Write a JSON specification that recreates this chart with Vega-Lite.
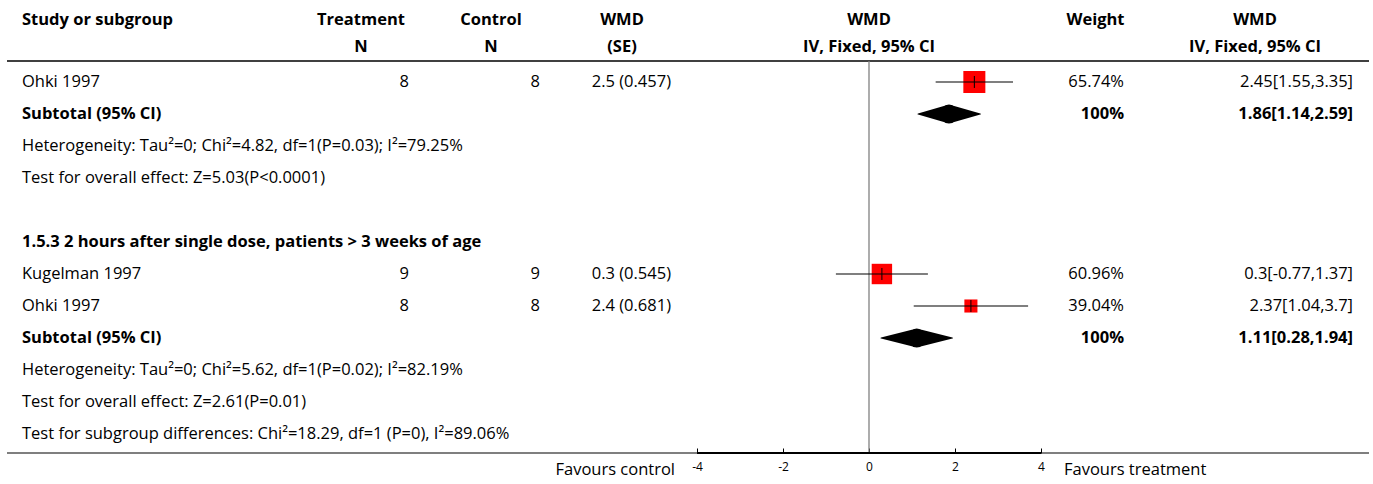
{
  "$schema": "https://vega.github.io/schema/vega-lite/v6.json",
  "padding": {"left": 6, "right": 5, "top": 0, "bottom": 0},
  "background": "white",
  "spacing": 0,
  "bounds": "flush",
  "datasets": {
    "rows": [
      {"row": 1, "kind": "study", "label": "Ohki 1997", "tn": "8", "cn": "8", "se": "2.5 (0.457)", "mean": 2.45, "lo": 1.55, "hi": 3.35, "weight": 65.74, "wtext": "65.74%", "ci": "2.45[1.55,3.35]"},
      {"row": 2, "kind": "subtotal", "label": "Subtotal (95% CI)", "mean": 1.86, "lo": 1.14, "hi": 2.59, "wtext": "100%", "ci": "1.86[1.14,2.59]"},
      {"row": 3, "kind": "note", "label": "Heterogeneity: Tau²=0; Chi²=4.82, df=1(P=0.03); I²=79.25%"},
      {"row": 4, "kind": "note", "label": "Test for overall effect: Z=5.03(P<0.0001)"},
      {"row": 6, "kind": "group", "label": "1.5.3 2 hours after single dose, patients > 3 weeks of age"},
      {"row": 7, "kind": "study", "label": "Kugelman 1997", "tn": "9", "cn": "9", "se": "0.3 (0.545)", "mean": 0.3, "lo": -0.77, "hi": 1.37, "weight": 60.96, "wtext": "60.96%", "ci": "0.3[-0.77,1.37]"},
      {"row": 8, "kind": "study", "label": "Ohki 1997", "tn": "8", "cn": "8", "se": "2.4 (0.681)", "mean": 2.37, "lo": 1.04, "hi": 3.7, "weight": 39.04, "wtext": "39.04%", "ci": "2.37[1.04,3.7]"},
      {"row": 9, "kind": "subtotal", "label": "Subtotal (95% CI)", "mean": 1.11, "lo": 0.28, "hi": 1.94, "wtext": "100%", "ci": "1.11[0.28,1.94]"},
      {"row": 10, "kind": "note", "label": "Heterogeneity: Tau²=0; Chi²=5.62, df=1(P=0.02); I²=82.19%"},
      {"row": 11, "kind": "note", "label": "Test for overall effect: Z=2.61(P=0.01)"},
      {"row": 12, "kind": "note", "label": "Test for subgroup differences: Chi²=18.29, df=1 (P=0), I²=89.06%"}
    ],
    "heads": [
      {"col": "study", "l1": "Study or subgroup", "l2": ""},
      {"col": "tn", "l1": "Treatment", "l2": "N"},
      {"col": "cn", "l1": "Control", "l2": "N"},
      {"col": "se", "l1": "WMD", "l2": "(SE)"},
      {"col": "forest", "l1": "WMD", "l2": "IV, Fixed, 95% CI"},
      {"col": "wt", "l1": "Weight", "l2": ""},
      {"col": "ci", "l1": "WMD", "l2": "IV, Fixed, 95% CI"}
    ],
    "one": [{}]
  },
  "hconcat": [
    {
      "width": 306, "height": 453,
      "layer": [
        {"data": {"name": "one"}, "mark": {"type": "rule", "color": "#000", "strokeWidth": 1.3}, "encoding": {"y": {"datum": 0.344, "type": "quantitative", "scale": {"domain": [-1.5625, 12.5938], "reverse": true, "nice": false, "zero": false}, "axis": null}}},
        {"data": {"name": "one"}, "mark": {"type": "rule", "color": "#000", "strokeWidth": 1.2}, "encoding": {"y": {"value": "height"}}},
        {"data": {"name": "heads"}, "transform": [{"filter": "datum.col === 'study'"}], "mark": {"type": "text", "x": 0, "dx": 15, "dy": 2, "align": "left", "fontWeight": "bold"}, "encoding": {"y": {"datum": -1, "type": "quantitative", "scale": {"domain": [-1.5625, 12.5938], "reverse": true, "nice": false, "zero": false}, "axis": null}, "text": {"field": "l1"}}},
        {"data": {"name": "rows"}, "transform": [{"filter": "datum.kind === 'study' || datum.kind === 'note'"}], "mark": {"type": "text", "x": 0, "dx": 15, "align": "left"}, "encoding": {"y": {"field": "row", "type": "quantitative", "scale": {"domain": [-1.5625, 12.5938], "reverse": true, "nice": false, "zero": false}, "axis": null}, "text": {"field": "label"}}},
        {"data": {"name": "rows"}, "transform": [{"filter": "datum.kind === 'subtotal' || datum.kind === 'group'"}], "mark": {"type": "text", "x": 0, "dx": 15, "align": "left", "fontWeight": "bold"}, "encoding": {"y": {"field": "row", "type": "quantitative", "scale": {"domain": [-1.5625, 12.5938], "reverse": true, "nice": false, "zero": false}, "axis": null}, "text": {"field": "label"}}}
      ]
    },
    {
      "width": 96, "height": 453,
      "layer": [
        {"data": {"name": "one"}, "mark": {"type": "rule", "color": "#000", "strokeWidth": 1.3}, "encoding": {"y": {"datum": 0.344, "type": "quantitative", "scale": {"domain": [-1.5625, 12.5938], "reverse": true, "nice": false, "zero": false}, "axis": null}}},
        {"data": {"name": "one"}, "mark": {"type": "rule", "color": "#000", "strokeWidth": 1.2}, "encoding": {"y": {"value": "height"}}},
        {"data": {"name": "heads"}, "transform": [{"filter": "datum.col === 'tn'"}], "mark": {"type": "text", "x": "width", "dx": -48, "dy": 2, "align": "center", "fontWeight": "bold"}, "encoding": {"y": {"datum": -1, "type": "quantitative", "scale": {"domain": [-1.5625, 12.5938], "reverse": true, "nice": false, "zero": false}, "axis": null}, "text": {"field": "l1"}}},
        {"data": {"name": "heads"}, "transform": [{"filter": "datum.col === 'tn'"}], "mark": {"type": "text", "x": "width", "dx": -48, "dy": -3, "align": "center", "fontWeight": "bold"}, "encoding": {"y": {"datum": 0, "type": "quantitative", "scale": {"domain": [-1.5625, 12.5938], "reverse": true, "nice": false, "zero": false}, "axis": null}, "text": {"field": "l2"}}},
        {"data": {"name": "rows"}, "transform": [{"filter": "datum.kind === 'study'"}], "mark": {"type": "text", "x": "width", "align": "right"}, "encoding": {"y": {"field": "row", "type": "quantitative", "scale": {"domain": [-1.5625, 12.5938], "reverse": true, "nice": false, "zero": false}, "axis": null}, "text": {"field": "tn"}}}
      ]
    },
    {
      "width": 131, "height": 453,
      "layer": [
        {"data": {"name": "one"}, "mark": {"type": "rule", "color": "#000", "strokeWidth": 1.3}, "encoding": {"y": {"datum": 0.344, "type": "quantitative", "scale": {"domain": [-1.5625, 12.5938], "reverse": true, "nice": false, "zero": false}, "axis": null}}},
        {"data": {"name": "one"}, "mark": {"type": "rule", "color": "#000", "strokeWidth": 1.2}, "encoding": {"y": {"value": "height"}}},
        {"data": {"name": "heads"}, "transform": [{"filter": "datum.col === 'cn'"}], "mark": {"type": "text", "x": "width", "dx": -49, "dy": 2, "align": "center", "fontWeight": "bold"}, "encoding": {"y": {"datum": -1, "type": "quantitative", "scale": {"domain": [-1.5625, 12.5938], "reverse": true, "nice": false, "zero": false}, "axis": null}, "text": {"field": "l1"}}},
        {"data": {"name": "heads"}, "transform": [{"filter": "datum.col === 'cn'"}], "mark": {"type": "text", "x": "width", "dx": -49, "dy": -3, "align": "center", "fontWeight": "bold"}, "encoding": {"y": {"datum": 0, "type": "quantitative", "scale": {"domain": [-1.5625, 12.5938], "reverse": true, "nice": false, "zero": false}, "axis": null}, "text": {"field": "l2"}}},
        {"data": {"name": "rows"}, "transform": [{"filter": "datum.kind === 'study'"}], "mark": {"type": "text", "x": "width", "align": "right"}, "encoding": {"y": {"field": "row", "type": "quantitative", "scale": {"domain": [-1.5625, 12.5938], "reverse": true, "nice": false, "zero": false}, "axis": null}, "text": {"field": "cn"}}}
      ]
    },
    {
      "width": 131, "height": 453,
      "layer": [
        {"data": {"name": "one"}, "mark": {"type": "rule", "color": "#000", "strokeWidth": 1.3}, "encoding": {"y": {"datum": 0.344, "type": "quantitative", "scale": {"domain": [-1.5625, 12.5938], "reverse": true, "nice": false, "zero": false}, "axis": null}}},
        {"data": {"name": "one"}, "mark": {"type": "rule", "color": "#000", "strokeWidth": 1.2}, "encoding": {"y": {"value": "height"}}},
        {"data": {"name": "heads"}, "transform": [{"filter": "datum.col === 'se'"}], "mark": {"type": "text", "x": "width", "dx": -49, "dy": 2, "align": "center", "fontWeight": "bold"}, "encoding": {"y": {"datum": -1, "type": "quantitative", "scale": {"domain": [-1.5625, 12.5938], "reverse": true, "nice": false, "zero": false}, "axis": null}, "text": {"field": "l1"}}},
        {"data": {"name": "heads"}, "transform": [{"filter": "datum.col === 'se'"}], "mark": {"type": "text", "x": "width", "dx": -49, "dy": -3, "align": "center", "fontWeight": "bold"}, "encoding": {"y": {"datum": 0, "type": "quantitative", "scale": {"domain": [-1.5625, 12.5938], "reverse": true, "nice": false, "zero": false}, "axis": null}, "text": {"field": "l2"}}},
        {"data": {"name": "rows"}, "transform": [{"filter": "datum.kind === 'study'"}], "mark": {"type": "text", "x": "width", "align": "right"}, "encoding": {"y": {"field": "row", "type": "quantitative", "scale": {"domain": [-1.5625, 12.5938], "reverse": true, "nice": false, "zero": false}, "axis": null}, "text": {"field": "se"}}}
      ]
    },
    {
      "width": 396, "height": 453,
      "layer": [
        {"data": {"name": "one"}, "mark": {"type": "rule", "color": "#000", "strokeWidth": 1.3}, "encoding": {"y": {"datum": 0.344, "type": "quantitative", "scale": {"domain": [-1.5625, 12.5938], "reverse": true, "nice": false, "zero": false}, "axis": null}}},
        {"data": {"name": "one"}, "mark": {"type": "rule", "color": "#000", "strokeWidth": 1.2}, "encoding": {"y": {"value": "height"}}},
        {"data": {"name": "one"}, "mark": {"type": "rule", "color": "#808080", "strokeWidth": 1.3}, "encoding": {
          "x": {"datum": 0, "type": "quantitative", "scale": {"domain": [-4.6047, 4.6047], "nice": false, "zero": false}, "title": null,
                "axis": {"values": [-4, -2, 0, 2, 4], "domain": false, "grid": false, "tickSize": -5, "tickColor": "#000", "tickWidth": 1, "labelPadding": 13, "labelFontSize": 12, "labelColor": "#000", "labelFont": "Open Sans", "labelExpr": "datum.value", "title": null, "labelFlush": false}},
          "y": {"datum": 0.344, "type": "quantitative", "scale": {"domain": [-1.5625, 12.5938], "reverse": true, "nice": false, "zero": false}, "axis": null},
          "y2": {"datum": 12.5938}}},
        {"data": {"name": "one"}, "mark": {"type": "rule", "color": "#000", "strokeWidth": 2}, "encoding": {
          "x": {"datum": -4, "type": "quantitative", "scale": {"domain": [-4.6047, 4.6047], "nice": false, "zero": false}, "title": null},
          "x2": {"datum": 4},
          "y": {"value": "height"}}},
        {"data": {"name": "rows"}, "transform": [{"filter": "datum.kind === 'study'"}], "mark": {"type": "point", "shape": "square", "filled": true, "color": "#ff0000", "opacity": 1, "strokeWidth": 0}, "encoding": {
          "x": {"field": "mean", "type": "quantitative", "scale": {"domain": [-4.6047, 4.6047], "nice": false, "zero": false}, "title": null},
          "y": {"field": "row", "type": "quantitative", "scale": {"domain": [-1.5625, 12.5938], "reverse": true, "nice": false, "zero": false}, "axis": null},
          "size": {"field": "weight", "type": "quantitative", "scale": {"type": "pow", "exponent": 2, "domain": [0, 100], "range": [0, 1122]}, "legend": null}}},
        {"data": {"name": "rows"}, "transform": [{"filter": "datum.kind === 'study'"}], "mark": {"type": "rule", "color": "#000", "strokeWidth": 1.2}, "encoding": {
          "x": {"field": "lo", "type": "quantitative", "scale": {"domain": [-4.6047, 4.6047], "nice": false, "zero": false}, "title": null},
          "x2": {"field": "hi"},
          "y": {"field": "row", "type": "quantitative", "scale": {"domain": [-1.5625, 12.5938], "reverse": true, "nice": false, "zero": false}, "axis": null}}},
        {"data": {"name": "rows"}, "transform": [{"filter": "datum.kind === 'study'"}], "mark": {"type": "point", "shape": "M0,-1L0,1", "filled": false, "stroke": "#000", "strokeWidth": 1, "opacity": 1, "size": 144}, "encoding": {
          "x": {"field": "mean", "type": "quantitative", "scale": {"domain": [-4.6047, 4.6047], "nice": false, "zero": false}, "title": null},
          "y": {"field": "row", "type": "quantitative", "scale": {"domain": [-1.5625, 12.5938], "reverse": true, "nice": false, "zero": false}, "axis": null}}},
        {"data": {"name": "rows"}, "transform": [{"filter": "datum.kind === 'subtotal'"}, {"fold": ["lo", "mean", "hi"], "as": ["pt", "val"]}], "mark": {"type": "trail", "color": "#000", "opacity": 1}, "encoding": {
          "x": {"field": "val", "type": "quantitative", "scale": {"domain": [-4.6047, 4.6047], "nice": false, "zero": false}, "title": null},
          "y": {"field": "row", "type": "quantitative", "scale": {"domain": [-1.5625, 12.5938], "reverse": true, "nice": false, "zero": false}, "axis": null},
          "detail": {"field": "row", "type": "nominal"},
          "size": {"condition": {"test": "datum.pt === 'mean'", "value": 19}, "value": 0}}},
        {"data": {"name": "heads"}, "transform": [{"filter": "datum.col === 'forest'"}], "mark": {"type": "text", "dy": 2, "align": "center", "fontWeight": "bold"}, "encoding": {
          "x": {"datum": 0, "type": "quantitative", "scale": {"domain": [-4.6047, 4.6047], "nice": false, "zero": false}, "title": null},
          "y": {"datum": -1, "type": "quantitative", "scale": {"domain": [-1.5625, 12.5938], "reverse": true, "nice": false, "zero": false}, "axis": null}, "text": {"field": "l1"}}},
        {"data": {"name": "heads"}, "transform": [{"filter": "datum.col === 'forest'"}], "mark": {"type": "text", "dy": -3, "align": "center", "fontWeight": "bold"}, "encoding": {
          "x": {"datum": 0, "type": "quantitative", "scale": {"domain": [-4.6047, 4.6047], "nice": false, "zero": false}, "title": null},
          "y": {"datum": 0, "type": "quantitative", "scale": {"domain": [-1.5625, 12.5938], "reverse": true, "nice": false, "zero": false}, "axis": null}, "text": {"field": "l2"}}},
        {"data": {"name": "one"}, "mark": {"type": "text", "align": "right", "dx": -22, "dy": 17, "y": "height"}, "encoding": {
          "x": {"datum": -4, "type": "quantitative", "scale": {"domain": [-4.6047, 4.6047], "nice": false, "zero": false}, "title": null},
          "text": {"value": "Favours control"}}},
        {"data": {"name": "one"}, "mark": {"type": "text", "align": "left", "dx": 23, "dy": 17, "y": "height"}, "encoding": {
          "x": {"datum": 4, "type": "quantitative", "scale": {"domain": [-4.6047, 4.6047], "nice": false, "zero": false}, "title": null},
          "text": {"value": "Favours treatment"}}}
      ]
    },
    {
      "width": 57, "height": 453,
      "layer": [
        {"data": {"name": "one"}, "mark": {"type": "rule", "color": "#000", "strokeWidth": 1.3}, "encoding": {"y": {"datum": 0.344, "type": "quantitative", "scale": {"domain": [-1.5625, 12.5938], "reverse": true, "nice": false, "zero": false}, "axis": null}}},
        {"data": {"name": "one"}, "mark": {"type": "rule", "color": "#000", "strokeWidth": 1.2}, "encoding": {"y": {"value": "height"}}},
        {"data": {"name": "heads"}, "transform": [{"filter": "datum.col === 'wt'"}], "mark": {"type": "text", "x": "width", "dx": -28.5, "dy": 2, "align": "center", "fontWeight": "bold"}, "encoding": {"y": {"datum": -1, "type": "quantitative", "scale": {"domain": [-1.5625, 12.5938], "reverse": true, "nice": false, "zero": false}, "axis": null}, "text": {"field": "l1"}}},
        {"data": {"name": "rows"}, "transform": [{"filter": "datum.kind === 'study'"}], "mark": {"type": "text", "x": "width", "align": "right"}, "encoding": {"y": {"field": "row", "type": "quantitative", "scale": {"domain": [-1.5625, 12.5938], "reverse": true, "nice": false, "zero": false}, "axis": null}, "text": {"field": "wtext"}}},
        {"data": {"name": "rows"}, "transform": [{"filter": "datum.kind === 'subtotal'"}], "mark": {"type": "text", "x": "width", "align": "right", "fontWeight": "bold"}, "encoding": {"y": {"field": "row", "type": "quantitative", "scale": {"domain": [-1.5625, 12.5938], "reverse": true, "nice": false, "zero": false}, "axis": null}, "text": {"field": "wtext"}}}
      ]
    },
    {
      "width": 245, "height": 453,
      "layer": [
        {"data": {"name": "one"}, "mark": {"type": "rule", "color": "#000", "strokeWidth": 1.3}, "encoding": {"y": {"datum": 0.344, "type": "quantitative", "scale": {"domain": [-1.5625, 12.5938], "reverse": true, "nice": false, "zero": false}, "axis": null}}},
        {"data": {"name": "one"}, "mark": {"type": "rule", "color": "#000", "strokeWidth": 1.2}, "encoding": {"y": {"value": "height"}}},
        {"data": {"name": "heads"}, "transform": [{"filter": "datum.col === 'ci'"}], "mark": {"type": "text", "x": "width", "dx": -114, "dy": 2, "align": "center", "fontWeight": "bold"}, "encoding": {"y": {"datum": -1, "type": "quantitative", "scale": {"domain": [-1.5625, 12.5938], "reverse": true, "nice": false, "zero": false}, "axis": null}, "text": {"field": "l1"}}},
        {"data": {"name": "heads"}, "transform": [{"filter": "datum.col === 'ci'"}], "mark": {"type": "text", "x": "width", "dx": -114, "dy": -3, "align": "center", "fontWeight": "bold"}, "encoding": {"y": {"datum": 0, "type": "quantitative", "scale": {"domain": [-1.5625, 12.5938], "reverse": true, "nice": false, "zero": false}, "axis": null}, "text": {"field": "l2"}}},
        {"data": {"name": "rows"}, "transform": [{"filter": "datum.kind === 'study'"}], "mark": {"type": "text", "x": "width", "dx": -16, "align": "right"}, "encoding": {"y": {"field": "row", "type": "quantitative", "scale": {"domain": [-1.5625, 12.5938], "reverse": true, "nice": false, "zero": false}, "axis": null}, "text": {"field": "ci"}}},
        {"data": {"name": "rows"}, "transform": [{"filter": "datum.kind === 'subtotal'"}], "mark": {"type": "text", "x": "width", "dx": -16, "align": "right", "fontWeight": "bold"}, "encoding": {"y": {"field": "row", "type": "quantitative", "scale": {"domain": [-1.5625, 12.5938], "reverse": true, "nice": false, "zero": false}, "axis": null}, "text": {"field": "ci"}}}
      ]
    }
  ],
  "config": {
    "view": {"stroke": null},
    "text": {"font": "Open Sans", "fontSize": 16.5, "baseline": "middle", "color": "#000"},
    "axis": {"labelFont": "Open Sans"}
  }
}
